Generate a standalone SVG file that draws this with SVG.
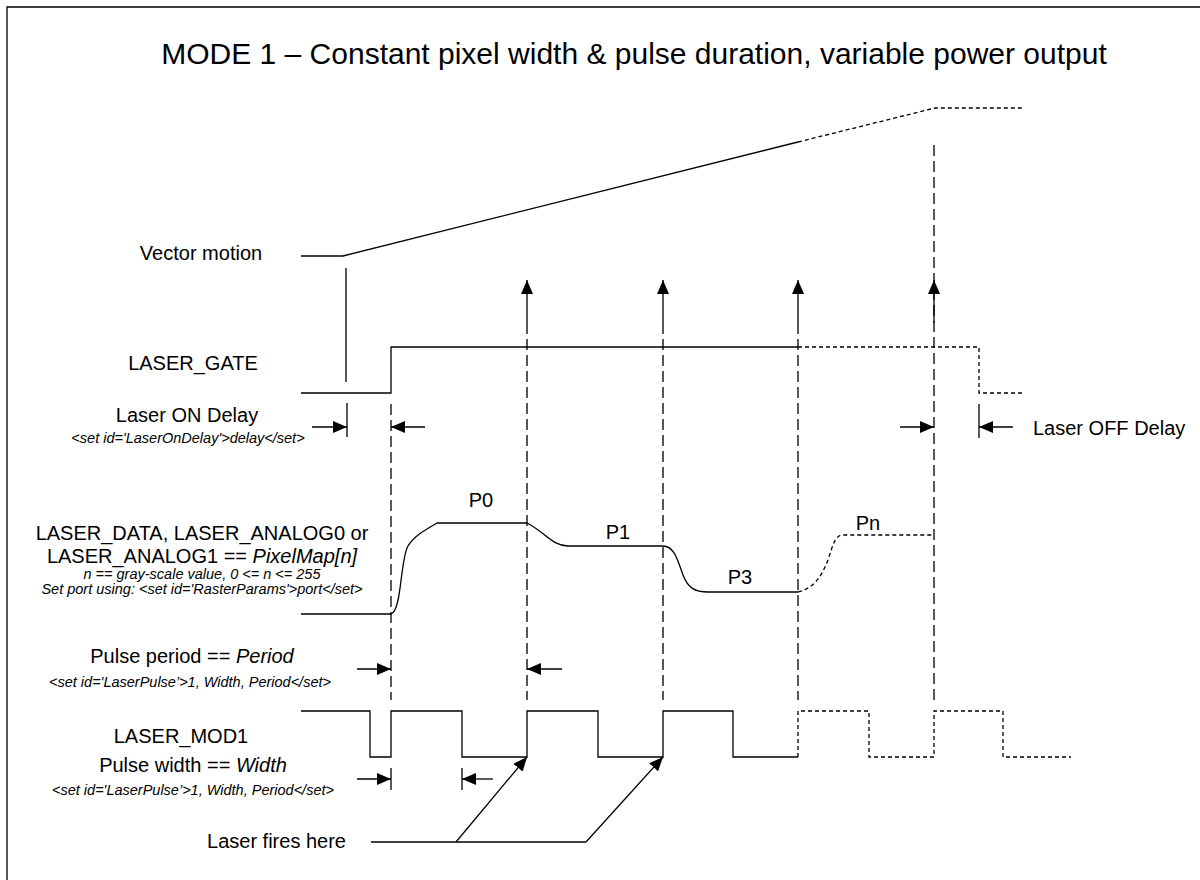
<svg xmlns="http://www.w3.org/2000/svg" width="1200" height="880" viewBox="0 0 1200 880">
<defs>
<style>
text{font-family:"Liberation Sans",Arial,sans-serif;fill:#000}
.lbl{font-size:20px}
.sm{font-size:14.5px;font-style:italic}
.it{font-style:italic}
.ttl{font-size:30px}
.ln{fill:none;stroke:#000;stroke-width:1.3}
.dsh{fill:none;stroke:#000;stroke-width:1.3;stroke-dasharray:4 3}
.vd{fill:none;stroke:#000;stroke-width:1.3;stroke-dasharray:11 5}
</style>
<marker id="ah" viewBox="0 0 14 12" refX="14" refY="6" markerWidth="14" markerHeight="12" markerUnits="userSpaceOnUse" orient="auto">
<path d="M0,0 L14,6 L0,12 z" fill="#000"/>
</marker>
</defs>
<rect x="0" y="0" width="1200" height="880" fill="#fff"/>
<path class="ln" d="M7,880 V7 H1200"/>

<g id="title"><text class="ttl" x="634" y="64" text-anchor="middle">MODE 1 – Constant pixel width &amp; pulse duration, variable power output</text></g>

<g id="vector-motion">
<text class="lbl" x="201" y="260" text-anchor="middle">Vector motion</text>
<path class="ln" d="M301,256 H343 L798,142"/>
<path class="dsh" d="M798,142 L935,108 H1023"/>
</g>

<g id="laser-gate">
<text class="lbl" x="193" y="370" text-anchor="middle">LASER_GATE</text>
<path class="ln" d="M301,393 H391 V347 H798"/>
<path class="dsh" d="M798,347 H979 V393 H1025"/>
</g>

<g id="laser-on-delay">
<text class="lbl" x="187" y="422" text-anchor="middle">Laser ON Delay</text>
<text class="sm" x="188" y="443" text-anchor="middle">&lt;set id='LaserOnDelay'&gt;delay&lt;/set&gt;</text>
</g>

<g id="laser-off-delay">
<text class="lbl" x="1033" y="435">Laser OFF Delay</text>
</g>

<g id="laser-data">
<text class="lbl" x="202" y="540" text-anchor="middle">LASER_DATA, LASER_ANALOG0 or</text>
<text class="lbl" x="202" y="563" text-anchor="middle">LASER_ANALOG1 == <tspan class="it">PixelMap[n]</tspan></text>
<text class="sm" x="202" y="579" text-anchor="middle">n == gray-scale value, 0 &lt;= n &lt;= 255</text>
<text class="sm" x="202" y="594" text-anchor="middle">Set port using: &lt;set id='RasterParams'&gt;port&lt;/set&gt;</text>
<path class="ln" d="M301,614 H391 C402,610 400,560 408,546 C414,536 425,530 437,523 H527 C545,532 552,546 568,546 H663 C675,546 678,562 683,575 C688,588 695,592 708,592 H798"/>
<path class="dsh" d="M798,592 C815,588 822,575 828,560 C833,545 835,535 843,535 H934"/>
<text class="lbl" x="481" y="507" text-anchor="middle">P0</text>
<text class="lbl" x="618" y="539" text-anchor="middle">P1</text>
<text class="lbl" x="740" y="584" text-anchor="middle">P3</text>
<text class="lbl" x="868" y="530" text-anchor="middle">Pn</text>
</g>

<g id="pulse-period">
<text class="lbl" x="192" y="663" text-anchor="middle">Pulse period == <tspan class="it">Period</tspan></text>
<text class="sm" x="190" y="687" text-anchor="middle">&lt;set id='LaserPulse’&gt;1, Width, Period&lt;/set&gt;</text>
</g>

<g id="laser-mod1">
<text class="lbl" x="181" y="743" text-anchor="middle">LASER_MOD1</text>
<path class="ln" d="M301,711 H370 V757 H391 V711 H462 V757 H527 V711 H598 V757 H663 V711 H733 V757 H798"/>
<path class="dsh" d="M798,757 V711 H869 V757 H934 V711 H1003 V757 H1071"/>
</g>

<g id="pulse-width">
<text class="lbl" x="193" y="772" text-anchor="middle">Pulse width == <tspan class="it">Width</tspan></text>
<text class="sm" x="193" y="795" text-anchor="middle">&lt;set id='LaserPulse’&gt;1, Width, Period&lt;/set&gt;</text>
</g>

<g id="laser-fires">
<text class="lbl" x="346" y="848" text-anchor="end">Laser fires here</text>
</g>

<g id="connectors">
<path class="ln" d="M346,268 V382"/>
<path class="vd" d="M391,404 V700"/>
<path class="vd" d="M527,323 V700"/>
<path class="vd" d="M663,323 V700"/>
<path class="vd" d="M798,323 V700"/>
<path class="vd" d="M934,145 V700"/>
<path class="ln" d="M527,323 V280" marker-end="url(#ah)"/>
<path class="ln" d="M663,323 V280" marker-end="url(#ah)"/>
<path class="ln" d="M798,323 V280" marker-end="url(#ah)"/>
<path class="ln" d="M934,323 V280" marker-end="url(#ah)"/>
<path class="ln" d="M347,403 V437"/>
<path class="ln" d="M312,427 H347" marker-end="url(#ah)"/>
<path class="ln" d="M425,427 H391" marker-end="url(#ah)"/>
<path class="ln" d="M979,404 V438"/>
<path class="ln" d="M900,427 H934" marker-end="url(#ah)"/>
<path class="ln" d="M1013,427 H979" marker-end="url(#ah)"/>
<path class="ln" d="M357,669 H391" marker-end="url(#ah)"/>
<path class="ln" d="M562,669 H527" marker-end="url(#ah)"/>
<path class="ln" d="M391,768 V790"/>
<path class="ln" d="M462,768 V790"/>
<path class="ln" d="M357,779 H391" marker-end="url(#ah)"/>
<path class="ln" d="M493,779 H462" marker-end="url(#ah)"/>
<path class="ln" d="M371,842 H586"/>
<path class="ln" d="M456,842 L527,757" marker-end="url(#ah)"/>
<path class="ln" d="M586,842 L663,757" marker-end="url(#ah)"/>
</g>
</svg>
